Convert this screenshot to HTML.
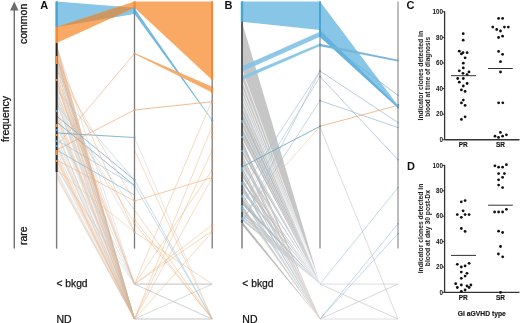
<!DOCTYPE html>
<html><head><meta charset="utf-8"><style>
html,body{margin:0;padding:0;background:#fff;}
svg{display:block;font-family:"Liberation Sans",sans-serif;}
text{-webkit-font-smoothing:antialiased;}
body{will-change:transform;}
</style></head><body>
<svg width="520" height="323" viewBox="0 0 520 323">
<rect width="520" height="323" fill="#fff"/>
<polygon points="56.60,45.00 134.50,284.10 56.60,48.30" fill="#c2c2c2" fill-opacity="0.1" />
<line x1="56.60" y1="45.00" x2="134.50" y2="284.10" stroke="#c2c2c2" stroke-width="0.6" stroke-opacity="0.6"/>
<polygon points="56.60,48.30 134.50,319.00 56.60,52.55" fill="#c2c2c2" fill-opacity="0.1" />
<line x1="56.60" y1="48.30" x2="134.50" y2="319.00" stroke="#c2c2c2" stroke-width="0.6" stroke-opacity="0.6"/>
<polygon points="56.60,52.55 134.50,319.00 56.60,55.97" fill="#c2c2c2" fill-opacity="0.1" />
<line x1="56.60" y1="52.55" x2="134.50" y2="319.00" stroke="#c2c2c2" stroke-width="0.6" stroke-opacity="0.6"/>
<polygon points="56.60,55.97 134.50,319.00 56.60,58.74" fill="#c2c2c2" fill-opacity="0.1" />
<line x1="56.60" y1="55.97" x2="134.50" y2="319.00" stroke="#c2c2c2" stroke-width="0.6" stroke-opacity="0.6"/>
<polygon points="56.60,58.74 134.50,319.00 56.60,62.40" fill="#c2c2c2" fill-opacity="0.1" />
<line x1="56.60" y1="58.74" x2="134.50" y2="319.00" stroke="#c2c2c2" stroke-width="0.6" stroke-opacity="0.6"/>
<polygon points="56.60,62.40 134.50,319.00 56.60,64.99" fill="#bcd2de" fill-opacity="0.1" />
<line x1="56.60" y1="62.40" x2="134.50" y2="319.00" stroke="#bcd2de" stroke-width="0.6" stroke-opacity="0.6"/>
<polygon points="56.60,64.99 134.50,284.10 56.60,67.57" fill="#c2c2c2" fill-opacity="0.1" />
<line x1="56.60" y1="64.99" x2="134.50" y2="284.10" stroke="#c2c2c2" stroke-width="0.6" stroke-opacity="0.6"/>
<polygon points="56.60,67.57 134.50,319.00 56.60,71.35" fill="#f0ad78" fill-opacity="0.1" />
<line x1="56.60" y1="67.57" x2="134.50" y2="319.00" stroke="#f0ad78" stroke-width="0.6" stroke-opacity="0.75"/>
<polygon points="56.60,71.35 134.50,319.00 56.60,75.72" fill="#c2c2c2" fill-opacity="0.1" />
<line x1="56.60" y1="71.35" x2="134.50" y2="319.00" stroke="#c2c2c2" stroke-width="0.6" stroke-opacity="0.6"/>
<polygon points="56.60,75.72 134.50,319.00 56.60,79.43" fill="#c2c2c2" fill-opacity="0.1" />
<line x1="56.60" y1="75.72" x2="134.50" y2="319.00" stroke="#c2c2c2" stroke-width="0.6" stroke-opacity="0.6"/>
<polygon points="56.60,79.43 134.50,319.00 56.60,82.14" fill="#f0ad78" fill-opacity="0.1" />
<line x1="56.60" y1="79.43" x2="134.50" y2="319.00" stroke="#f0ad78" stroke-width="0.6" stroke-opacity="0.75"/>
<polygon points="56.60,82.14 134.50,319.00 56.60,85.60" fill="#f0ad78" fill-opacity="0.1" />
<line x1="56.60" y1="82.14" x2="134.50" y2="319.00" stroke="#f0ad78" stroke-width="0.6" stroke-opacity="0.75"/>
<polygon points="56.60,85.60 134.50,284.10 56.60,88.38" fill="#f0ad78" fill-opacity="0.1" />
<line x1="56.60" y1="85.60" x2="134.50" y2="284.10" stroke="#f0ad78" stroke-width="0.6" stroke-opacity="0.75"/>
<polygon points="56.60,88.38 134.50,319.00 56.60,90.84" fill="#c2c2c2" fill-opacity="0.1" />
<line x1="56.60" y1="88.38" x2="134.50" y2="319.00" stroke="#c2c2c2" stroke-width="0.6" stroke-opacity="0.6"/>
<polygon points="56.60,90.84 134.50,319.00 56.60,94.12" fill="#c2c2c2" fill-opacity="0.1" />
<line x1="56.60" y1="90.84" x2="134.50" y2="319.00" stroke="#c2c2c2" stroke-width="0.6" stroke-opacity="0.6"/>
<polygon points="56.60,94.12 134.50,319.00 56.60,97.56" fill="#c2c2c2" fill-opacity="0.1" />
<line x1="56.60" y1="94.12" x2="134.50" y2="319.00" stroke="#c2c2c2" stroke-width="0.6" stroke-opacity="0.6"/>
<polygon points="56.60,97.56 134.50,319.00 56.60,100.96" fill="#c2c2c2" fill-opacity="0.1" />
<line x1="56.60" y1="97.56" x2="134.50" y2="319.00" stroke="#c2c2c2" stroke-width="0.6" stroke-opacity="0.6"/>
<polygon points="56.60,100.96 134.50,319.00 56.60,104.27" fill="#f0ad78" fill-opacity="0.1" />
<line x1="56.60" y1="100.96" x2="134.50" y2="319.00" stroke="#f0ad78" stroke-width="0.6" stroke-opacity="0.75"/>
<polygon points="56.60,104.27 134.50,284.10 56.60,108.67" fill="#c2c2c2" fill-opacity="0.1" />
<line x1="56.60" y1="104.27" x2="134.50" y2="284.10" stroke="#c2c2c2" stroke-width="0.6" stroke-opacity="0.6"/>
<polygon points="56.60,108.67 134.50,319.00 56.60,112.75" fill="#c2c2c2" fill-opacity="0.1" />
<line x1="56.60" y1="108.67" x2="134.50" y2="319.00" stroke="#c2c2c2" stroke-width="0.6" stroke-opacity="0.6"/>
<polygon points="56.60,112.75 134.50,319.00 56.60,115.78" fill="#f0ad78" fill-opacity="0.1" />
<line x1="56.60" y1="112.75" x2="134.50" y2="319.00" stroke="#f0ad78" stroke-width="0.6" stroke-opacity="0.75"/>
<polygon points="56.60,115.78 134.50,319.00 56.60,118.76" fill="#f0ad78" fill-opacity="0.1" />
<line x1="56.60" y1="115.78" x2="134.50" y2="319.00" stroke="#f0ad78" stroke-width="0.6" stroke-opacity="0.75"/>
<polygon points="56.60,118.76 134.50,319.00 56.60,122.69" fill="#c2c2c2" fill-opacity="0.1" />
<line x1="56.60" y1="118.76" x2="134.50" y2="319.00" stroke="#c2c2c2" stroke-width="0.6" stroke-opacity="0.6"/>
<polygon points="56.60,122.69 134.50,319.00 56.60,126.78" fill="#bcd2de" fill-opacity="0.1" />
<line x1="56.60" y1="122.69" x2="134.50" y2="319.00" stroke="#bcd2de" stroke-width="0.6" stroke-opacity="0.6"/>
<polygon points="56.60,126.78 134.50,284.10 56.60,131.10" fill="#c2c2c2" fill-opacity="0.1" />
<line x1="56.60" y1="126.78" x2="134.50" y2="284.10" stroke="#c2c2c2" stroke-width="0.6" stroke-opacity="0.6"/>
<polygon points="56.60,131.10 134.50,319.00 56.60,133.50" fill="#f0ad78" fill-opacity="0.1" />
<line x1="56.60" y1="131.10" x2="134.50" y2="319.00" stroke="#f0ad78" stroke-width="0.6" stroke-opacity="0.75"/>
<polygon points="56.60,133.50 134.50,319.00 56.60,137.72" fill="#c2c2c2" fill-opacity="0.1" />
<line x1="56.60" y1="133.50" x2="134.50" y2="319.00" stroke="#c2c2c2" stroke-width="0.6" stroke-opacity="0.6"/>
<polygon points="56.60,137.72 134.50,319.00 56.60,142.08" fill="#bcd2de" fill-opacity="0.1" />
<line x1="56.60" y1="137.72" x2="134.50" y2="319.00" stroke="#bcd2de" stroke-width="0.6" stroke-opacity="0.6"/>
<polygon points="56.60,142.08 134.50,319.00 56.60,144.63" fill="#c2c2c2" fill-opacity="0.1" />
<line x1="56.60" y1="142.08" x2="134.50" y2="319.00" stroke="#c2c2c2" stroke-width="0.6" stroke-opacity="0.6"/>
<polygon points="56.60,144.63 134.50,319.00 56.60,148.58" fill="#f0ad78" fill-opacity="0.1" />
<line x1="56.60" y1="144.63" x2="134.50" y2="319.00" stroke="#f0ad78" stroke-width="0.6" stroke-opacity="0.75"/>
<polygon points="56.60,148.58 134.50,284.10 56.60,151.16" fill="#bcd2de" fill-opacity="0.1" />
<line x1="56.60" y1="148.58" x2="134.50" y2="284.10" stroke="#bcd2de" stroke-width="0.6" stroke-opacity="0.6"/>
<polygon points="56.60,151.16 134.50,319.00 56.60,155.49" fill="#c2c2c2" fill-opacity="0.1" />
<line x1="56.60" y1="151.16" x2="134.50" y2="319.00" stroke="#c2c2c2" stroke-width="0.6" stroke-opacity="0.6"/>
<polygon points="56.60,155.49 134.50,319.00 56.60,158.12" fill="#f0ad78" fill-opacity="0.1" />
<line x1="56.60" y1="155.49" x2="134.50" y2="319.00" stroke="#f0ad78" stroke-width="0.6" stroke-opacity="0.75"/>
<polygon points="56.60,158.12 134.50,319.00 56.60,160.72" fill="#f0ad78" fill-opacity="0.1" />
<line x1="56.60" y1="158.12" x2="134.50" y2="319.00" stroke="#f0ad78" stroke-width="0.6" stroke-opacity="0.75"/>
<polygon points="56.60,160.72 134.50,319.00 56.60,164.72" fill="#f0ad78" fill-opacity="0.1" />
<line x1="56.60" y1="160.72" x2="134.50" y2="319.00" stroke="#f0ad78" stroke-width="0.6" stroke-opacity="0.75"/>
<polygon points="56.60,164.72 134.50,319.00 56.60,168.24" fill="#c2c2c2" fill-opacity="0.1" />
<line x1="56.60" y1="164.72" x2="134.50" y2="319.00" stroke="#c2c2c2" stroke-width="0.6" stroke-opacity="0.6"/>
<polygon points="56.60,168.24 134.50,284.10 56.60,171.02" fill="#c2c2c2" fill-opacity="0.1" />
<line x1="56.60" y1="168.24" x2="134.50" y2="284.10" stroke="#c2c2c2" stroke-width="0.6" stroke-opacity="0.6"/>
<polygon points="56.60,171.02 134.50,319.00 56.60,173.68" fill="#c2c2c2" fill-opacity="0.1" />
<line x1="56.60" y1="171.02" x2="134.50" y2="319.00" stroke="#c2c2c2" stroke-width="0.6" stroke-opacity="0.6"/>
<polygon points="56.60,173.68 134.50,319.00 56.60,176.31" fill="#c2c2c2" fill-opacity="0.1" />
<line x1="56.60" y1="173.68" x2="134.50" y2="319.00" stroke="#c2c2c2" stroke-width="0.6" stroke-opacity="0.6"/>
<polygon points="56.60,176.31 134.50,319.00 56.60,179.14" fill="#f0ad78" fill-opacity="0.1" />
<line x1="56.60" y1="176.31" x2="134.50" y2="319.00" stroke="#f0ad78" stroke-width="0.6" stroke-opacity="0.75"/>
<polygon points="56.60,44.00 134.50,319.00 56.60,50.00" fill="#f0b080" fill-opacity="0.7" />
<polygon points="56.60,50.00 134.50,318.70 134.50,319.30 56.60,53.00" fill="#f2a262" fill-opacity="0.55" />
<polygon points="56.60,54.00 134.50,318.70 134.50,319.30 56.60,58.00" fill="#f0a060" fill-opacity="0.7" />
<polygon points="56.60,58.00 134.50,318.70 134.50,319.30 56.60,64.00" fill="#b9cbd6" fill-opacity="0.6" />
<polygon points="56.60,66.00 134.50,318.70 134.50,319.30 56.60,68.00" fill="#f2a262" fill-opacity="0.4" />
<polygon points="56.60,80.00 134.50,283.80 134.50,284.40 56.60,81.50" fill="#f2a262" fill-opacity="0.4" />
<line x1="56.60" y1="146.00" x2="134.50" y2="53.50" stroke="#f0b488" stroke-width="0.8" stroke-opacity="0.85"/>
<line x1="56.60" y1="133.00" x2="134.50" y2="137.50" stroke="#6eaacc" stroke-width="1.0" stroke-opacity="0.85"/>
<line x1="56.60" y1="150.00" x2="134.50" y2="110.00" stroke="#eea670" stroke-width="0.8" stroke-opacity="0.85"/>
<line x1="56.60" y1="116.00" x2="134.50" y2="180.00" stroke="#6eaacc" stroke-width="0.9" stroke-opacity="0.85"/>
<line x1="56.60" y1="122.00" x2="134.50" y2="185.50" stroke="#6eaacc" stroke-width="0.9" stroke-opacity="0.85"/>
<line x1="56.60" y1="140.00" x2="134.50" y2="185.50" stroke="#8fc0da" stroke-width="0.7" stroke-opacity="0.85"/>
<line x1="56.60" y1="150.00" x2="134.50" y2="195.00" stroke="#7cb4d4" stroke-width="0.8" stroke-opacity="0.85"/>
<line x1="56.60" y1="160.00" x2="134.50" y2="201.00" stroke="#f0b07a" stroke-width="0.7" stroke-opacity="0.85"/>
<line x1="56.60" y1="100.00" x2="134.50" y2="223.00" stroke="#f0c090" stroke-width="0.6" stroke-opacity="0.85"/>
<line x1="56.60" y1="170.00" x2="134.50" y2="232.00" stroke="#f0c090" stroke-width="0.6" stroke-opacity="0.85"/>
<line x1="56.60" y1="90.00" x2="134.50" y2="180.00" stroke="#9cc7de" stroke-width="0.6" stroke-opacity="0.85"/>
<line x1="56.60" y1="58.00" x2="134.50" y2="232.00" stroke="#f0b07a" stroke-width="0.7" stroke-opacity="0.75"/>
<line x1="56.60" y1="70.00" x2="134.50" y2="201.00" stroke="#f0b890" stroke-width="0.7" stroke-opacity="0.75"/>
<line x1="56.60" y1="76.00" x2="134.50" y2="284.10" stroke="#f0b890" stroke-width="0.7" stroke-opacity="0.75"/>
<line x1="56.60" y1="95.00" x2="134.50" y2="232.00" stroke="#c8c8c8" stroke-width="0.6" stroke-opacity="0.75"/>
<line x1="56.60" y1="104.00" x2="134.50" y2="210.00" stroke="#9cc7de" stroke-width="0.6" stroke-opacity="0.75"/>
<polygon points="56.60,1.50 134.50,7.80 134.50,13.90 56.60,27.00" fill="#87c6e6" fill-opacity="1.0" />
<polygon points="56.60,27.00 134.50,1.50 134.50,7.80 56.60,43.00" fill="#f9a964" fill-opacity="1.0" />
<polygon points="56.60,27.00 119.10,6.55 134.50,7.80 113.00,17.50" fill="#cb9864" fill-opacity="1.0" />
<polygon points="134.50,1.50 212.20,1.50 212.20,80.00 134.50,7.80" fill="#f9a964" fill-opacity="1.0" />
<polygon points="134.50,8.20 212.20,120.00 212.20,120.80 134.50,13.90" fill="#74b8e0" fill-opacity="1.0" />
<polygon points="134.50,53.00 212.20,86.80 212.20,92.60 134.50,54.00" fill="#f5a862" fill-opacity="0.95" />
<line x1="134.50" y1="110.00" x2="212.20" y2="101.70" stroke="#eca56e" stroke-width="0.9" stroke-opacity="0.85"/>
<line x1="134.50" y1="137.40" x2="212.20" y2="319.00" stroke="#cfcfcf" stroke-width="0.6" stroke-opacity="0.85"/>
<line x1="134.50" y1="180.00" x2="212.20" y2="319.00" stroke="#a2c8de" stroke-width="0.7" stroke-opacity="0.85"/>
<line x1="134.50" y1="185.50" x2="212.20" y2="319.00" stroke="#a2c8de" stroke-width="0.7" stroke-opacity="0.85"/>
<line x1="134.50" y1="201.00" x2="212.20" y2="177.50" stroke="#f0b07a" stroke-width="0.8" stroke-opacity="0.85"/>
<line x1="134.50" y1="223.40" x2="212.20" y2="319.00" stroke="#efb582" stroke-width="0.6" stroke-opacity="0.85"/>
<line x1="134.50" y1="219.50" x2="212.20" y2="319.00" stroke="#efb582" stroke-width="0.6" stroke-opacity="0.85"/>
<line x1="134.50" y1="232.00" x2="212.20" y2="284.10" stroke="#efb582" stroke-width="0.6" stroke-opacity="0.85"/>
<line x1="134.50" y1="319.00" x2="212.20" y2="126.00" stroke="#efb582" stroke-width="0.6" stroke-opacity="0.85"/>
<line x1="134.50" y1="319.00" x2="212.20" y2="150.00" stroke="#efb582" stroke-width="0.6" stroke-opacity="0.85"/>
<line x1="134.50" y1="284.10" x2="212.20" y2="170.00" stroke="#efb582" stroke-width="0.6" stroke-opacity="0.85"/>
<line x1="134.50" y1="319.00" x2="212.20" y2="177.50" stroke="#efb582" stroke-width="0.6" stroke-opacity="0.85"/>
<line x1="134.50" y1="284.10" x2="212.20" y2="225.00" stroke="#efb582" stroke-width="0.6" stroke-opacity="0.85"/>
<line x1="134.50" y1="284.10" x2="212.20" y2="231.00" stroke="#efb582" stroke-width="0.6" stroke-opacity="0.85"/>
<line x1="134.50" y1="319.00" x2="212.20" y2="232.00" stroke="#efb582" stroke-width="0.6" stroke-opacity="0.85"/>
<line x1="134.50" y1="284.10" x2="212.20" y2="284.10" stroke="#b4b4b4" stroke-width="0.6" stroke-opacity="0.85"/>
<line x1="134.50" y1="319.00" x2="212.20" y2="319.00" stroke="#bdbdbd" stroke-width="0.6" stroke-opacity="0.85"/>
<line x1="134.50" y1="284.10" x2="212.20" y2="319.00" stroke="#b0b0b0" stroke-width="0.7" stroke-opacity="0.85"/>
<line x1="134.50" y1="319.00" x2="212.20" y2="284.10" stroke="#b8b8b8" stroke-width="0.6" stroke-opacity="0.85"/>
<line x1="134.50" y1="150.00" x2="212.20" y2="319.00" stroke="#efb582" stroke-width="0.6" stroke-opacity="0.85"/>
<line x1="134.50" y1="210.00" x2="212.20" y2="319.00" stroke="#efb582" stroke-width="0.6" stroke-opacity="0.85"/>
<line x1="134.50" y1="284.10" x2="212.20" y2="100.00" stroke="#efb582" stroke-width="0.6" stroke-opacity="0.85"/>
<line x1="56.60" y1="1.50" x2="56.60" y2="248.60" stroke="#7a7a7a" stroke-width="1.4" stroke-opacity="1.0"/>
<line x1="56.60" y1="1.50" x2="56.60" y2="27.00" stroke="#4aa3d6" stroke-width="2.4" stroke-opacity="1.0"/>
<line x1="56.60" y1="27.00" x2="56.60" y2="43.00" stroke="#f58a32" stroke-width="2.4" stroke-opacity="1.0"/>
<line x1="56.60" y1="43.00" x2="56.60" y2="172.00" stroke="#262626" stroke-width="2.0" stroke-opacity="1.0"/>
<line x1="56.60" y1="56.00" x2="56.60" y2="64.00" stroke="#f58a32" stroke-width="2.0" stroke-opacity="1.0"/>
<line x1="56.60" y1="79.00" x2="56.60" y2="81.00" stroke="#f58a32" stroke-width="2.0" stroke-opacity="1.0"/>
<line x1="56.60" y1="124.00" x2="56.60" y2="127.00" stroke="#f58a32" stroke-width="2.0" stroke-opacity="1.0"/>
<line x1="56.60" y1="134.00" x2="56.60" y2="136.00" stroke="#f58a32" stroke-width="2.0" stroke-opacity="1.0"/>
<line x1="56.60" y1="150.00" x2="56.60" y2="155.00" stroke="#f58a32" stroke-width="2.0" stroke-opacity="1.0"/>
<line x1="56.60" y1="160.00" x2="56.60" y2="162.00" stroke="#f58a32" stroke-width="2.0" stroke-opacity="1.0"/>
<line x1="56.60" y1="129.00" x2="56.60" y2="131.00" stroke="#4f9fcf" stroke-width="2.0" stroke-opacity="1.0"/>
<line x1="56.60" y1="140.00" x2="56.60" y2="142.00" stroke="#4f9fcf" stroke-width="2.0" stroke-opacity="1.0"/>
<line x1="56.60" y1="145.00" x2="56.60" y2="147.00" stroke="#4f9fcf" stroke-width="2.0" stroke-opacity="1.0"/>
<line x1="56.60" y1="110.00" x2="56.60" y2="112.00" stroke="#4f9fcf" stroke-width="2.0" stroke-opacity="1.0"/>
<line x1="134.50" y1="1.50" x2="134.50" y2="248.60" stroke="#7a7a7a" stroke-width="1.3" stroke-opacity="1.0"/>
<line x1="134.50" y1="1.50" x2="134.50" y2="7.80" stroke="#f58a32" stroke-width="2" stroke-opacity="1.0"/>
<line x1="134.50" y1="7.80" x2="134.50" y2="13.90" stroke="#4aa3d6" stroke-width="2" stroke-opacity="1.0"/>
<line x1="212.20" y1="1.50" x2="212.20" y2="248.60" stroke="#7a7a7a" stroke-width="1.3" stroke-opacity="1.0"/>
<line x1="212.20" y1="1.50" x2="212.20" y2="80.00" stroke="#f58a32" stroke-width="2" stroke-opacity="1.0"/>
<line x1="212.20" y1="87.30" x2="212.20" y2="92.90" stroke="#f58a32" stroke-width="2" stroke-opacity="1.0"/>
<line x1="212.20" y1="100.80" x2="212.20" y2="102.60" stroke="#e8955a" stroke-width="2.0" stroke-opacity="1.0"/>
<line x1="212.20" y1="125.10" x2="212.20" y2="126.90" stroke="#e8955a" stroke-width="2.0" stroke-opacity="1.0"/>
<line x1="212.20" y1="132.10" x2="212.20" y2="133.90" stroke="#e8955a" stroke-width="2.0" stroke-opacity="1.0"/>
<line x1="212.20" y1="136.10" x2="212.20" y2="137.90" stroke="#e8955a" stroke-width="2.0" stroke-opacity="1.0"/>
<line x1="212.20" y1="149.10" x2="212.20" y2="150.90" stroke="#e8955a" stroke-width="2.0" stroke-opacity="1.0"/>
<line x1="212.20" y1="159.10" x2="212.20" y2="160.90" stroke="#e8955a" stroke-width="2.0" stroke-opacity="1.0"/>
<line x1="212.20" y1="169.10" x2="212.20" y2="170.90" stroke="#e8955a" stroke-width="2.0" stroke-opacity="1.0"/>
<line x1="212.20" y1="176.60" x2="212.20" y2="178.40" stroke="#e8955a" stroke-width="2.0" stroke-opacity="1.0"/>
<line x1="212.20" y1="224.10" x2="212.20" y2="225.90" stroke="#e8955a" stroke-width="2.0" stroke-opacity="1.0"/>
<line x1="212.20" y1="230.10" x2="212.20" y2="231.90" stroke="#e8955a" stroke-width="2.0" stroke-opacity="1.0"/>
<line x1="212.20" y1="119.80" x2="212.20" y2="121.40" stroke="#5a9fcc" stroke-width="2.0" stroke-opacity="1.0"/>
<line x1="134.50" y1="52.70" x2="134.50" y2="54.30" stroke="#e0a070" stroke-width="1.8" stroke-opacity="1.0"/>
<line x1="134.50" y1="109.20" x2="134.50" y2="110.80" stroke="#e0a070" stroke-width="1.8" stroke-opacity="1.0"/>
<line x1="134.50" y1="200.20" x2="134.50" y2="201.80" stroke="#e0a070" stroke-width="1.8" stroke-opacity="1.0"/>
<line x1="134.50" y1="218.70" x2="134.50" y2="220.30" stroke="#e0a070" stroke-width="1.8" stroke-opacity="1.0"/>
<line x1="134.50" y1="222.60" x2="134.50" y2="224.20" stroke="#e0a070" stroke-width="1.8" stroke-opacity="1.0"/>
<line x1="134.50" y1="231.20" x2="134.50" y2="232.80" stroke="#e0a070" stroke-width="1.8" stroke-opacity="1.0"/>
<line x1="134.50" y1="136.60" x2="134.50" y2="138.20" stroke="#6a9fc0" stroke-width="1.8" stroke-opacity="1.0"/>
<line x1="134.50" y1="179.20" x2="134.50" y2="180.80" stroke="#6a9fc0" stroke-width="1.8" stroke-opacity="1.0"/>
<line x1="134.50" y1="184.70" x2="134.50" y2="186.30" stroke="#6a9fc0" stroke-width="1.8" stroke-opacity="1.0"/>
<line x1="134.50" y1="284.10" x2="212.20" y2="284.10" stroke="#cccccc" stroke-width="0.7" stroke-opacity="1.0"/>
<line x1="134.50" y1="319.00" x2="212.20" y2="319.00" stroke="#cccccc" stroke-width="0.7" stroke-opacity="1.0"/>
<polygon points="242.00,22.00 320.00,284.10 242.00,100.00" fill="#c6c6c6" fill-opacity="1.0" />
<line x1="242.00" y1="70.00" x2="320.00" y2="284.10" stroke="#ffffff" stroke-width="0.7" stroke-opacity="0.95"/>
<line x1="242.00" y1="80.00" x2="320.00" y2="284.10" stroke="#ffffff" stroke-width="0.7" stroke-opacity="0.95"/>
<line x1="242.00" y1="88.00" x2="320.00" y2="284.10" stroke="#ffffff" stroke-width="0.7" stroke-opacity="0.95"/>
<line x1="242.00" y1="94.00" x2="320.00" y2="284.10" stroke="#ffffff" stroke-width="0.7" stroke-opacity="0.95"/>
<line x1="242.00" y1="99.00" x2="320.00" y2="284.10" stroke="#ffffff" stroke-width="0.7" stroke-opacity="0.95"/>
<polygon points="242.00,100.35 320.00,284.10 242.00,106.49" fill="#c2ccd1" fill-opacity="0.95" />
<polygon points="242.00,107.19 320.00,284.10 242.00,112.08" fill="#bebebe" fill-opacity="0.95" />
<polygon points="242.00,112.78 320.00,284.10 242.00,119.64" fill="#bababa" fill-opacity="0.95" />
<polygon points="242.00,120.34 320.00,284.10 242.00,127.05" fill="#bcc6cb" fill-opacity="0.95" />
<polygon points="242.00,127.75 320.00,284.10 242.00,133.13" fill="#bababa" fill-opacity="0.95" />
<polygon points="242.00,133.83 320.00,284.10 242.00,138.46" fill="#bebebe" fill-opacity="0.95" />
<polygon points="242.00,139.16 320.00,319.00 242.00,145.41" fill="#bebebe" fill-opacity="0.95" />
<polygon points="242.00,146.11 320.00,284.10 242.00,149.23" fill="#c2ccd1" fill-opacity="0.95" />
<polygon points="242.00,149.93 320.00,284.10 242.00,153.30" fill="#bababa" fill-opacity="0.95" />
<polygon points="242.00,154.00 320.00,319.00 242.00,156.83" fill="#bebebe" fill-opacity="0.95" />
<polygon points="242.00,157.53 320.00,319.00 242.00,161.07" fill="#bebebe" fill-opacity="0.95" />
<polygon points="242.00,161.77 320.00,284.10 242.00,165.96" fill="#c2ccd1" fill-opacity="0.95" />
<polygon points="242.00,166.66 320.00,319.00 242.00,169.84" fill="#bebebe" fill-opacity="0.95" />
<polygon points="242.00,170.54 320.00,319.00 242.00,173.91" fill="#bcc6cb" fill-opacity="0.95" />
<polygon points="242.00,174.61 320.00,284.10 242.00,176.99" fill="#bebebe" fill-opacity="0.95" />
<polygon points="242.00,177.69 320.00,319.00 242.00,179.78" fill="#b6b6b6" fill-opacity="0.95" />
<polygon points="242.00,180.48 320.00,284.10 242.00,183.59" fill="#bababa" fill-opacity="0.95" />
<polygon points="242.00,184.29 320.00,319.00 242.00,187.72" fill="#bababa" fill-opacity="0.95" />
<polygon points="242.00,188.42 320.00,284.10 242.00,192.17" fill="#bcc6cb" fill-opacity="0.95" />
<polygon points="242.00,192.87 320.00,319.00 242.00,194.73" fill="#bcc6cb" fill-opacity="0.95" />
<polygon points="242.00,195.43 320.00,319.00 242.00,196.90" fill="#bababa" fill-opacity="0.95" />
<polygon points="242.00,197.60 320.00,319.00 242.00,199.97" fill="#bcc6cb" fill-opacity="0.95" />
<polygon points="242.00,200.67 320.00,284.10 242.00,204.33" fill="#b6b6b6" fill-opacity="0.95" />
<polygon points="242.00,205.03 320.00,319.00 242.00,208.86" fill="#bcc6cb" fill-opacity="0.95" />
<polygon points="242.00,209.56 320.00,284.10 242.00,211.40" fill="#bebebe" fill-opacity="0.95" />
<polygon points="242.00,212.10 320.00,284.10 242.00,214.14" fill="#bcc6cb" fill-opacity="0.95" />
<polygon points="242.00,214.84 320.00,284.10 242.00,217.20" fill="#c2ccd1" fill-opacity="0.95" />
<polygon points="242.00,217.90 320.00,284.10 242.00,220.59" fill="#c2ccd1" fill-opacity="0.95" />
<polygon points="242.00,221.29 320.00,319.00 242.00,224.98" fill="#b6b6b6" fill-opacity="0.95" />
<line x1="242.00" y1="190.00" x2="320.00" y2="71.00" stroke="#9dbdd0" stroke-width="0.7" stroke-opacity="0.85"/>
<line x1="242.00" y1="223.00" x2="320.00" y2="71.00" stroke="#9dbdd0" stroke-width="0.7" stroke-opacity="0.85"/>
<line x1="242.00" y1="205.00" x2="320.00" y2="76.60" stroke="#9dbdd0" stroke-width="0.7" stroke-opacity="0.85"/>
<line x1="242.00" y1="221.50" x2="320.00" y2="100.60" stroke="#9dbdd0" stroke-width="0.7" stroke-opacity="0.85"/>
<line x1="242.00" y1="215.00" x2="320.00" y2="126.30" stroke="#f0c8a0" stroke-width="0.7" stroke-opacity="0.85"/>
<line x1="242.00" y1="167.00" x2="320.00" y2="126.30" stroke="#6aa6c6" stroke-width="1.0" stroke-opacity="0.85"/>
<line x1="242.00" y1="185.00" x2="320.00" y2="319.00" stroke="#a8d0e2" stroke-width="0.6" stroke-opacity="0.85"/>
<line x1="242.00" y1="200.00" x2="320.00" y2="284.10" stroke="#a8d0e2" stroke-width="0.6" stroke-opacity="0.85"/>
<line x1="242.00" y1="210.00" x2="320.00" y2="319.00" stroke="#e8c8a8" stroke-width="0.6" stroke-opacity="0.85"/>
<line x1="242.00" y1="165.00" x2="320.00" y2="319.00" stroke="#e8c8b8" stroke-width="0.6" stroke-opacity="0.85"/>
<line x1="242.00" y1="150.00" x2="320.00" y2="319.00" stroke="#e0c8c0" stroke-width="0.5" stroke-opacity="0.85"/>
<polygon points="242.00,1.50 320.00,1.50 320.00,30.00 242.00,21.70" fill="#87c6e6" fill-opacity="1.0" />
<polygon points="242.00,66.30 320.00,31.80 320.00,36.80 242.00,71.60" fill="#87c6e6" fill-opacity="0.95" />
<polygon points="242.00,76.00 320.00,43.50 320.00,46.00 242.00,80.00" fill="#87c6e6" fill-opacity="0.95" />
<polygon points="320.00,1.50 398.00,105.50 398.00,108.00 320.00,37.00" fill="#87c6e6" fill-opacity="1.0" />
<polygon points="320.00,30.00 398.00,106.50 398.00,108.00 320.00,36.80" fill="#5aaedc" fill-opacity="0.8" />
<polygon points="320.00,43.80 398.00,59.80 398.00,61.50 320.00,46.30" fill="#74b3d8" fill-opacity="0.95" />
<line x1="320.00" y1="37.00" x2="398.00" y2="95.30" stroke="#6ab2dc" stroke-width="0.8" stroke-opacity="0.85"/>
<line x1="320.00" y1="71.00" x2="398.00" y2="122.60" stroke="#8db3c8" stroke-width="0.75" stroke-opacity="0.85"/>
<line x1="320.00" y1="76.60" x2="398.00" y2="159.70" stroke="#8db3c8" stroke-width="0.75" stroke-opacity="0.85"/>
<line x1="320.00" y1="100.60" x2="398.00" y2="127.60" stroke="#8db3c8" stroke-width="0.75" stroke-opacity="0.85"/>
<line x1="320.00" y1="126.30" x2="398.00" y2="105.30" stroke="#eeaa70" stroke-width="0.9" stroke-opacity="0.85"/>
<line x1="320.00" y1="127.00" x2="398.00" y2="319.00" stroke="#c4c4c4" stroke-width="0.7" stroke-opacity="0.85"/>
<line x1="320.00" y1="284.10" x2="398.00" y2="187.60" stroke="#9cc4d8" stroke-width="0.75" stroke-opacity="0.85"/>
<line x1="320.00" y1="319.00" x2="398.00" y2="223.80" stroke="#9cc4d8" stroke-width="0.75" stroke-opacity="0.85"/>
<line x1="320.00" y1="319.00" x2="398.00" y2="233.60" stroke="#9cc4d8" stroke-width="0.75" stroke-opacity="0.85"/>
<line x1="320.00" y1="284.10" x2="398.00" y2="319.00" stroke="#bbbbbb" stroke-width="0.7" stroke-opacity="0.85"/>
<line x1="320.00" y1="319.00" x2="398.00" y2="284.10" stroke="#bbbbbb" stroke-width="0.7" stroke-opacity="0.85"/>
<line x1="320.00" y1="284.10" x2="398.00" y2="284.10" stroke="#c4c4c4" stroke-width="0.7" stroke-opacity="0.85"/>
<line x1="320.00" y1="319.00" x2="398.00" y2="319.00" stroke="#cccccc" stroke-width="0.7" stroke-opacity="0.85"/>
<line x1="242.00" y1="1.50" x2="242.00" y2="248.60" stroke="#7a7a7a" stroke-width="1.4" stroke-opacity="1.0"/>
<line x1="242.00" y1="1.50" x2="242.00" y2="21.70" stroke="#4aa3d6" stroke-width="2.4" stroke-opacity="1.0"/>
<line x1="242.00" y1="21.70" x2="242.00" y2="223.00" stroke="#3a3a3a" stroke-width="1.3" stroke-opacity="1.0"/>
<line x1="242.00" y1="120.00" x2="242.00" y2="123.00" stroke="#5aa2cf" stroke-width="1.8" stroke-opacity="1.0"/>
<line x1="242.00" y1="136.00" x2="242.00" y2="138.00" stroke="#5aa2cf" stroke-width="1.8" stroke-opacity="1.0"/>
<line x1="242.00" y1="150.00" x2="242.00" y2="152.00" stroke="#5aa2cf" stroke-width="1.8" stroke-opacity="1.0"/>
<line x1="242.00" y1="167.00" x2="242.00" y2="172.00" stroke="#5aa2cf" stroke-width="1.8" stroke-opacity="1.0"/>
<line x1="242.00" y1="182.00" x2="242.00" y2="185.00" stroke="#5aa2cf" stroke-width="1.8" stroke-opacity="1.0"/>
<line x1="242.00" y1="195.00" x2="242.00" y2="198.00" stroke="#5aa2cf" stroke-width="1.8" stroke-opacity="1.0"/>
<line x1="242.00" y1="205.00" x2="242.00" y2="212.00" stroke="#5aa2cf" stroke-width="1.8" stroke-opacity="1.0"/>
<line x1="242.00" y1="217.00" x2="242.00" y2="220.00" stroke="#5aa2cf" stroke-width="1.8" stroke-opacity="1.0"/>
<line x1="320.00" y1="1.50" x2="320.00" y2="248.60" stroke="#9a9a9a" stroke-width="1.5" stroke-opacity="1.0"/>
<line x1="320.00" y1="1.50" x2="320.00" y2="37.00" stroke="#4aa3d6" stroke-width="2" stroke-opacity="1.0"/>
<line x1="320.00" y1="43.50" x2="320.00" y2="46.50" stroke="#4aa3d6" stroke-width="2" stroke-opacity="1.0"/>
<line x1="398.00" y1="1.50" x2="398.00" y2="248.60" stroke="#9a9a9a" stroke-width="1.3" stroke-opacity="1.0"/>
<line x1="320.00" y1="70.30" x2="320.00" y2="71.70" stroke="#777" stroke-width="1.7" stroke-opacity="1.0"/>
<line x1="320.00" y1="75.90" x2="320.00" y2="77.30" stroke="#777" stroke-width="1.7" stroke-opacity="1.0"/>
<line x1="320.00" y1="99.90" x2="320.00" y2="101.30" stroke="#777" stroke-width="1.7" stroke-opacity="1.0"/>
<line x1="320.00" y1="125.60" x2="320.00" y2="127.00" stroke="#777" stroke-width="1.7" stroke-opacity="1.0"/>
<line x1="398.00" y1="59.80" x2="398.00" y2="61.20" stroke="#7f9fb5" stroke-width="1.6" stroke-opacity="1.0"/>
<line x1="398.00" y1="94.60" x2="398.00" y2="96.00" stroke="#7f9fb5" stroke-width="1.6" stroke-opacity="1.0"/>
<line x1="398.00" y1="121.90" x2="398.00" y2="123.30" stroke="#7f9fb5" stroke-width="1.6" stroke-opacity="1.0"/>
<line x1="398.00" y1="126.90" x2="398.00" y2="128.30" stroke="#7f9fb5" stroke-width="1.6" stroke-opacity="1.0"/>
<line x1="398.00" y1="159.00" x2="398.00" y2="160.40" stroke="#7f9fb5" stroke-width="1.6" stroke-opacity="1.0"/>
<line x1="398.00" y1="186.90" x2="398.00" y2="188.30" stroke="#7f9fb5" stroke-width="1.6" stroke-opacity="1.0"/>
<line x1="398.00" y1="223.10" x2="398.00" y2="224.50" stroke="#7f9fb5" stroke-width="1.6" stroke-opacity="1.0"/>
<line x1="398.00" y1="232.90" x2="398.00" y2="234.30" stroke="#7f9fb5" stroke-width="1.6" stroke-opacity="1.0"/>
<line x1="398.00" y1="104.00" x2="398.00" y2="108.50" stroke="#4a9fd2" stroke-width="1.8" stroke-opacity="1.0"/>
<line x1="14.3" y1="10" x2="14.3" y2="248.6" stroke="#6d6d6d" stroke-width="1.4"/>
<polygon points="14.3,1.5 10.1,10.6 18.5,10.6" fill="#6d6d6d"/>
<text x="27" y="44" font-size="10.5" font-weight="normal" text-anchor="start" fill="#151515" transform="rotate(-90 27 44)" stroke="#151515" stroke-width="0.3">common</text>
<text x="9" y="142" font-size="10.5" font-weight="normal" text-anchor="start" fill="#151515" transform="rotate(-90 9 142)" stroke="#151515" stroke-width="0.3">frequency</text>
<text x="27" y="245" font-size="10.5" font-weight="normal" text-anchor="start" fill="#151515" transform="rotate(-90 27 245)" stroke="#151515" stroke-width="0.3">rare</text>
<text x="40.3" y="9.2" font-size="11" font-weight="bold" text-anchor="start" fill="#111">A</text>
<text x="224.5" y="9.0" font-size="11" font-weight="bold" text-anchor="start" fill="#111">B</text>
<text x="406.6" y="9.3" font-size="11" font-weight="bold" text-anchor="start" fill="#111">C</text>
<text x="406.9" y="169.5" font-size="11" font-weight="bold" text-anchor="start" fill="#111">D</text>
<text x="56.4" y="287.4" font-size="10.3" font-weight="normal" text-anchor="start" fill="#151515" stroke="#151515" stroke-width="0.25">&lt; bkgd</text>
<text x="56.4" y="322.6" font-size="10.5" font-weight="normal" text-anchor="start" fill="#151515" stroke="#151515" stroke-width="0.25">ND</text>
<text x="242.3" y="287.4" font-size="10.3" font-weight="normal" text-anchor="start" fill="#151515" stroke="#151515" stroke-width="0.25">&lt; bkgd</text>
<text x="242.3" y="322.6" font-size="10.5" font-weight="normal" text-anchor="start" fill="#151515" stroke="#151515" stroke-width="0.25">ND</text>
<line x1="444.6" y1="11.25" x2="444.6" y2="139.75" stroke="#333" stroke-width="1.3"/>
<line x1="444.6" y1="139.75" x2="519.5" y2="139.75" stroke="#333" stroke-width="1.3"/>
<line x1="442.3" y1="11.75" x2="444.6" y2="11.75" stroke="#333" stroke-width="1"/>
<text x="443.0" y="13.95" font-size="6.3" font-weight="bold" text-anchor="end" fill="#151515">100</text>
<line x1="442.3" y1="37.349999999999994" x2="444.6" y2="37.349999999999994" stroke="#333" stroke-width="1"/>
<text x="443.0" y="39.55" font-size="6.3" font-weight="bold" text-anchor="end" fill="#151515">80</text>
<line x1="442.3" y1="62.95" x2="444.6" y2="62.95" stroke="#333" stroke-width="1"/>
<text x="443.0" y="65.15" font-size="6.3" font-weight="bold" text-anchor="end" fill="#151515">60</text>
<line x1="442.3" y1="88.55" x2="444.6" y2="88.55" stroke="#333" stroke-width="1"/>
<text x="443.0" y="90.75" font-size="6.3" font-weight="bold" text-anchor="end" fill="#151515">40</text>
<line x1="442.3" y1="114.15" x2="444.6" y2="114.15" stroke="#333" stroke-width="1"/>
<text x="443.0" y="116.35000000000001" font-size="6.3" font-weight="bold" text-anchor="end" fill="#151515">20</text>
<line x1="442.3" y1="139.75" x2="444.6" y2="139.75" stroke="#333" stroke-width="1"/>
<text x="443.0" y="141.95" font-size="6.3" font-weight="bold" text-anchor="end" fill="#151515">0</text>
<circle cx="463.2" cy="33.7" r="1.4" fill="#111"/>
<circle cx="463.2" cy="40.2" r="1.4" fill="#111"/>
<circle cx="459.3" cy="51.2" r="1.4" fill="#111"/>
<circle cx="461.4" cy="53.9" r="1.4" fill="#111"/>
<circle cx="463.0" cy="52.7" r="1.4" fill="#111"/>
<circle cx="467.1" cy="52.7" r="1.4" fill="#111"/>
<circle cx="465.1" cy="57.8" r="1.4" fill="#111"/>
<circle cx="463.3" cy="63.2" r="1.4" fill="#111"/>
<circle cx="463.3" cy="67.9" r="1.4" fill="#111"/>
<circle cx="459.3" cy="70.8" r="1.4" fill="#111"/>
<circle cx="463.0" cy="73.3" r="1.4" fill="#111"/>
<circle cx="469.0" cy="71.9" r="1.4" fill="#111"/>
<circle cx="467.1" cy="74.7" r="1.4" fill="#111"/>
<circle cx="457.7" cy="78.5" r="1.4" fill="#111"/>
<circle cx="463.3" cy="78.5" r="1.4" fill="#111"/>
<circle cx="459.3" cy="82.2" r="1.4" fill="#111"/>
<circle cx="467.1" cy="83.5" r="1.4" fill="#111"/>
<circle cx="463.3" cy="86.0" r="1.4" fill="#111"/>
<circle cx="461.4" cy="89.9" r="1.4" fill="#111"/>
<circle cx="465.1" cy="91.4" r="1.4" fill="#111"/>
<circle cx="463.3" cy="100.1" r="1.4" fill="#111"/>
<circle cx="461.4" cy="102.9" r="1.4" fill="#111"/>
<circle cx="465.1" cy="105.4" r="1.4" fill="#111"/>
<circle cx="465.1" cy="116.8" r="1.4" fill="#111"/>
<circle cx="461.4" cy="119.4" r="1.4" fill="#111"/>
<circle cx="498.6" cy="18.4" r="1.4" fill="#111"/>
<circle cx="502.6" cy="18.4" r="1.4" fill="#111"/>
<circle cx="492.8" cy="27.1" r="1.4" fill="#111"/>
<circle cx="496.7" cy="29.5" r="1.4" fill="#111"/>
<circle cx="500.5" cy="31" r="1.4" fill="#111"/>
<circle cx="504.4" cy="27.1" r="1.4" fill="#111"/>
<circle cx="508.3" cy="27.1" r="1.4" fill="#111"/>
<circle cx="498.6" cy="37.5" r="1.4" fill="#111"/>
<circle cx="502.6" cy="36.2" r="1.4" fill="#111"/>
<circle cx="498.6" cy="51.4" r="1.4" fill="#111"/>
<circle cx="502.6" cy="54.3" r="1.4" fill="#111"/>
<circle cx="500.5" cy="61.7" r="1.4" fill="#111"/>
<circle cx="500.5" cy="72" r="1.4" fill="#111"/>
<circle cx="498.6" cy="102.8" r="1.4" fill="#111"/>
<circle cx="502.8" cy="102.8" r="1.4" fill="#111"/>
<circle cx="500.4" cy="132.4" r="1.4" fill="#111"/>
<circle cx="495" cy="136.2" r="1.4" fill="#111"/>
<circle cx="498.5" cy="137.4" r="1.4" fill="#111"/>
<circle cx="502.6" cy="136.2" r="1.4" fill="#111"/>
<circle cx="506.4" cy="134.8" r="1.4" fill="#111"/>
<line x1="451" y1="75.7" x2="476" y2="75.7" stroke="#333" stroke-width="1"/>
<line x1="488.1" y1="68.5" x2="512.8" y2="68.5" stroke="#333" stroke-width="1"/>
<text x="463.2" y="147.25" font-size="6.5" font-weight="bold" text-anchor="middle" fill="#151515" stroke="#151515" stroke-width="0.15">PR</text>
<text x="500.5" y="147.25" font-size="6.5" font-weight="bold" text-anchor="middle" fill="#151515" stroke="#151515" stroke-width="0.15">SR</text>
<text x="422.8" y="120.5" font-size="6.6" font-weight="bold" fill="#222" transform="rotate(-90 422.8 120.5)" textLength="89.6" lengthAdjust="spacingAndGlyphs">Indicator clones detected in</text>
<text x="429.6" y="116.7" font-size="6.6" font-weight="bold" fill="#222" transform="rotate(-90 429.6 116.7)" textLength="79.7" lengthAdjust="spacingAndGlyphs">blood at time of diagnosis</text>
<line x1="444.6" y1="164.89999999999998" x2="444.6" y2="292.4" stroke="#333" stroke-width="1.3"/>
<line x1="444.6" y1="292.4" x2="519.5" y2="292.4" stroke="#333" stroke-width="1.3"/>
<line x1="442.3" y1="165.39999999999998" x2="444.6" y2="165.39999999999998" stroke="#333" stroke-width="1"/>
<text x="443.0" y="167.59999999999997" font-size="6.3" font-weight="bold" text-anchor="end" fill="#151515">100</text>
<line x1="442.3" y1="190.79999999999998" x2="444.6" y2="190.79999999999998" stroke="#333" stroke-width="1"/>
<text x="443.0" y="192.99999999999997" font-size="6.3" font-weight="bold" text-anchor="end" fill="#151515">80</text>
<line x1="442.3" y1="216.2" x2="444.6" y2="216.2" stroke="#333" stroke-width="1"/>
<text x="443.0" y="218.39999999999998" font-size="6.3" font-weight="bold" text-anchor="end" fill="#151515">60</text>
<line x1="442.3" y1="241.59999999999997" x2="444.6" y2="241.59999999999997" stroke="#333" stroke-width="1"/>
<text x="443.0" y="243.79999999999995" font-size="6.3" font-weight="bold" text-anchor="end" fill="#151515">40</text>
<line x1="442.3" y1="267.0" x2="444.6" y2="267.0" stroke="#333" stroke-width="1"/>
<text x="443.0" y="269.2" font-size="6.3" font-weight="bold" text-anchor="end" fill="#151515">20</text>
<line x1="442.3" y1="292.4" x2="444.6" y2="292.4" stroke="#333" stroke-width="1"/>
<text x="443.0" y="294.59999999999997" font-size="6.3" font-weight="bold" text-anchor="end" fill="#151515">0</text>
<circle cx="461.3" cy="201.8" r="1.4" fill="#111"/>
<circle cx="465.1" cy="200.6" r="1.4" fill="#111"/>
<circle cx="463.1" cy="210.8" r="1.4" fill="#111"/>
<circle cx="457.3" cy="214.6" r="1.4" fill="#111"/>
<circle cx="465.1" cy="214.6" r="1.4" fill="#111"/>
<circle cx="469.1" cy="214.6" r="1.4" fill="#111"/>
<circle cx="461.3" cy="217.3" r="1.4" fill="#111"/>
<circle cx="461.3" cy="228.5" r="1.4" fill="#111"/>
<circle cx="465.1" cy="231.4" r="1.4" fill="#111"/>
<circle cx="457.3" cy="264.3" r="1.4" fill="#111"/>
<circle cx="461.3" cy="267" r="1.4" fill="#111"/>
<circle cx="465.1" cy="265.9" r="1.4" fill="#111"/>
<circle cx="469.1" cy="263.3" r="1.4" fill="#111"/>
<circle cx="461.3" cy="272.1" r="1.4" fill="#111"/>
<circle cx="467" cy="273.3" r="1.4" fill="#111"/>
<circle cx="465.1" cy="276.1" r="1.4" fill="#111"/>
<circle cx="461.3" cy="278.3" r="1.4" fill="#111"/>
<circle cx="455.7" cy="283.7" r="1.4" fill="#111"/>
<circle cx="461.3" cy="285" r="1.4" fill="#111"/>
<circle cx="467" cy="286" r="1.4" fill="#111"/>
<circle cx="469.1" cy="287.5" r="1.4" fill="#111"/>
<circle cx="470.9" cy="285" r="1.4" fill="#111"/>
<circle cx="457.3" cy="287.5" r="1.4" fill="#111"/>
<circle cx="465.1" cy="290" r="1.4" fill="#111"/>
<circle cx="461.3" cy="291.3" r="1.4" fill="#111"/>
<circle cx="494.9" cy="165.8" r="1.4" fill="#111"/>
<circle cx="498.6" cy="167.2" r="1.4" fill="#111"/>
<circle cx="502.6" cy="167.2" r="1.4" fill="#111"/>
<circle cx="506.4" cy="164.7" r="1.4" fill="#111"/>
<circle cx="498.6" cy="173.6" r="1.4" fill="#111"/>
<circle cx="504.4" cy="173.6" r="1.4" fill="#111"/>
<circle cx="502.6" cy="177.3" r="1.4" fill="#111"/>
<circle cx="498.6" cy="179.8" r="1.4" fill="#111"/>
<circle cx="498.6" cy="185.1" r="1.4" fill="#111"/>
<circle cx="502.6" cy="187.6" r="1.4" fill="#111"/>
<circle cx="494.6" cy="212" r="1.4" fill="#111"/>
<circle cx="498.6" cy="212" r="1.4" fill="#111"/>
<circle cx="502.6" cy="212" r="1.4" fill="#111"/>
<circle cx="506.4" cy="209.3" r="1.4" fill="#111"/>
<circle cx="498.6" cy="231.2" r="1.4" fill="#111"/>
<circle cx="502.6" cy="232.5" r="1.4" fill="#111"/>
<circle cx="500.5" cy="246.5" r="1.4" fill="#111"/>
<circle cx="498.4" cy="254" r="1.4" fill="#111"/>
<circle cx="502.7" cy="256.8" r="1.4" fill="#111"/>
<circle cx="500.5" cy="292.4" r="1.4" fill="#111"/>
<line x1="451" y1="255.4" x2="476" y2="255.4" stroke="#333" stroke-width="1"/>
<line x1="488.1" y1="205.2" x2="512.8" y2="205.2" stroke="#333" stroke-width="1"/>
<text x="463.2" y="299.9" font-size="6.5" font-weight="bold" text-anchor="middle" fill="#151515" stroke="#151515" stroke-width="0.15">PR</text>
<text x="500.5" y="299.9" font-size="6.5" font-weight="bold" text-anchor="middle" fill="#151515" stroke="#151515" stroke-width="0.15">SR</text>
<text x="423.0" y="273.3" font-size="6.6" font-weight="bold" fill="#222" transform="rotate(-90 423.0 273.3)" textLength="89.70000000000002" lengthAdjust="spacingAndGlyphs">Indicator clones detected in</text>
<text x="430.0" y="266.2" font-size="6.6" font-weight="bold" fill="#222" transform="rotate(-90 430.0 266.2)" textLength="76.1" lengthAdjust="spacingAndGlyphs">blood at day 30 post-Dx</text>
<text x="457.8" y="315.8" font-size="7.8" font-weight="bold" text-anchor="start" fill="#1a1a1a" textLength="48" lengthAdjust="spacingAndGlyphs" stroke="#1a1a1a" stroke-width="0.2">GI aGVHD type</text>
</svg>
</body></html>
